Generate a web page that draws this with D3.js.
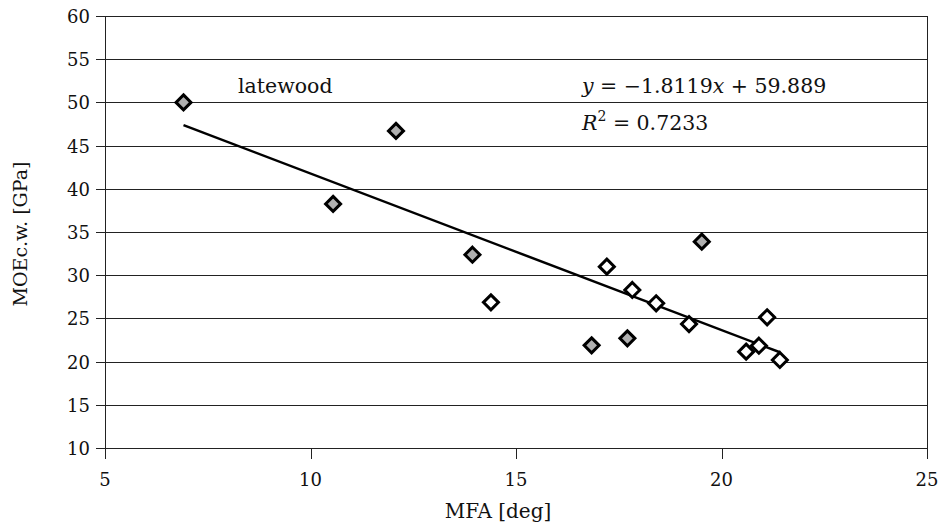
<html>
<head>
<script src="https://d3js.org/d3.v7.min.js"></script>
<style>
  body { margin: 0; background: #fff; }
  text { font-family: 'DejaVu Serif', serif; fill: #111; }
</style>
</head>
<body>
<script>
// gray markers (top group) and white markers
var grayMFA = [6.91, 12.08, 10.55, 13.94, 19.52, 16.84, 17.71];
var grayMOE = [50.0, 46.7, 38.25, 32.37, 33.88, 21.88, 22.69];
var whiteMFA = [14.39, 17.21, 17.83, 18.41, 19.21, 21.11, 20.60, 20.91, 21.42];
var whiteMOE = [26.86, 30.99, 28.29, 26.75, 24.35, 25.13, 21.15, 21.84, 20.19];
var fit = [-1.8119, 59.889];
var xTicks = [5, 10, 15, 20, 25];
var yTicks = [10, 15, 20, 25, 30, 35, 40, 45, 50, 55, 60];

var width = 938, height = 530;
var svg = d3.select('body').append('svg').attr('width', width).attr('height', height);

var x = d3.scaleLinear().domain([5, 25]).range([105, 927]);
var y = d3.scaleLinear().domain([10, 60]).range([448, 16]);

// horizontal grid lines with left ticks
svg.append('g').selectAll('line').data(yTicks).enter().append('line')
    .attr('x1', 96).attr('x2', 927)
    .attr('y1', function(d){ return Math.round(y(d)) + 0.5 })
    .attr('y2', function(d){ return Math.round(y(d)) + 0.5 })
    .attr('stroke', '#222').attr('stroke-width', 1);

// left and right vertical lines
[5, 25].forEach(function(v){
    svg.append('line').attr('x1', Math.round(x(v)) + 0.5).attr('x2', Math.round(x(v)) + 0.5)
        .attr('y1', y(60)).attr('y2', 459).attr('stroke', '#222');
});
// x ticks
svg.append('g').selectAll('line').data(xTicks).enter().append('line')
    .attr('x1', function(d){ return Math.round(x(d)) + 0.5 })
    .attr('x2', function(d){ return Math.round(x(d)) + 0.5 })
    .attr('y1', y(10)).attr('y2', 459).attr('stroke', '#222');

svg.append('g').selectAll('text').data(yTicks).enter().append('text')
    .attr('x', 90).attr('y', function(d){ return y(d) + 7 })
    .attr('text-anchor', 'end').attr('font-size', 18).text(function(d){ return d });

svg.append('g').selectAll('text').data(xTicks).enter().append('text')
    .attr('x', function(d){ return x(d) }).attr('y', 486)
    .attr('text-anchor', 'middle').attr('font-size', 18).text(function(d){ return d });

// axis titles
svg.append('text').attr('x', 498).attr('y', 518).attr('text-anchor', 'middle')
    .attr('font-size', 20).text('MFA [deg]');
svg.append('text').attr('transform', 'translate(27,234) rotate(-90)').attr('text-anchor', 'middle')
    .attr('font-size', 19).text('MOEc.w. [GPa]');

// regression line
var allX = grayMFA.concat(whiteMFA);
var x0 = d3.min(allX), x1 = d3.max(allX);
svg.append('line')
    .attr('x1', x(x0)).attr('y1', y(fit[0] * x0 + fit[1]))
    .attr('x2', x(x1)).attr('y2', y(fit[0] * x1 + fit[1]))
    .attr('stroke', '#000').attr('stroke-width', 2.5);

function diamond(mfa, moe, fill){
    var pts = mfa.map(function(d, i){ return [d, moe[i]] });
    svg.append('g').selectAll('path').data(pts).enter().append('path')
        .attr('d', 'M0,-7.5L7.5,0L0,7.5L-7.5,0Z')
        .attr('transform', function(d){ return 'translate(' + x(d[0]) + ',' + y(d[1]) + ')' })
        .attr('fill', fill).attr('stroke', '#000').attr('stroke-width', 3)
        .attr('stroke-linejoin', 'miter');
}
diamond(grayMFA, grayMOE, '#b0b0b0');
diamond(whiteMFA, whiteMOE, '#fff');

// labels
svg.append('text').attr('x', 238).attr('y', 93).attr('font-size', 20.5).text('latewood');
var eq = svg.append('text').attr('x', 582).attr('y', 93).attr('font-size', 20.5);
eq.append('tspan').attr('font-style', 'italic').text('y');
eq.append('tspan').text(' = \u22121.8119');
eq.append('tspan').attr('font-style', 'italic').text('x');
eq.append('tspan').text(' + 59.889');
var r2 = svg.append('text').attr('x', 582).attr('y', 130).attr('font-size', 20.5);
r2.append('tspan').attr('font-style', 'italic').text('R');
r2.append('tspan').attr('font-size', 14).attr('dy', -9).text('2');
r2.append('tspan').attr('dy', 9).text(' = 0.7233');
</script>
</body>
</html>
